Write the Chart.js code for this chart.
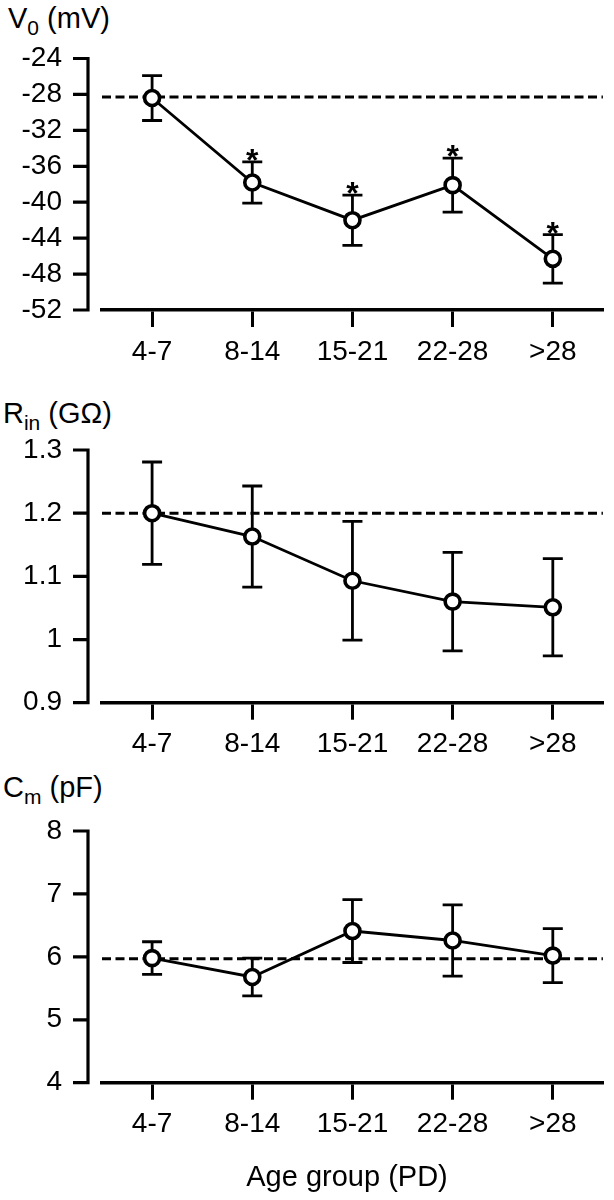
<!DOCTYPE html>
<html>
<head>
<meta charset="utf-8">
<script src="https://cdn.jsdelivr.net/npm/chart.js@4.4.1/dist/chart.umd.min.js"></script>
<style>
  body { margin: 0; background: #fff; width: 614px; height: 1200px; position: relative; overflow: hidden; }
  .box { position: absolute; left: 0; width: 614px; }
  .ttl { position: absolute; font-family: "Liberation Sans", Arial, sans-serif; font-size: 29px; color: #000; white-space: nowrap; }
  .ttl sub { font-size: 21px; vertical-align: -7px; line-height: 0; }
  #xlab { position: absolute; top: 1160px; left: 0; width: 694px; text-align: center; font-family: "Liberation Sans", Arial, sans-serif; font-size: 29px; }
</style>
</head>
<body>
<div class="ttl" style="left:8px; top:2px">V<sub>0</sub> (mV)</div>
<div class="ttl" style="left:3px; top:397px">R<sub>in</sub> (GΩ)</div>
<div class="ttl" style="left:3px; top:771px">C<sub>m</sub> (pF)</div>
<div class="box" style="top:0; height:380px"><canvas id="v0-chart"></canvas></div>
<div class="box" style="top:380px; height:390px"><canvas id="rin-chart"></canvas></div>
<div class="box" style="top:770px; height:430px"><canvas id="cm-chart"></canvas></div>
<div id="xlab">Age group (PD)</div>
<script>
const ageGroups = ['4-7', '8-14', '15-21', '22-28', '>28'];

// resting potential V0 (mV), mean ± SEM
const v0Mean = [-28.4, -37.8, -42.0, -38.1, -46.3];
const v0Sem = [2.5, 2.3, 2.8, 3.0, 2.7];
const v0Stars = ['', '*', '*', '*', '*'];
const v0Ref = -28.3;

// input resistance Rin (GOhm)
const rinMean = [1.20, 1.163, 1.093, 1.06, 1.051];
const rinSem = [0.081, 0.08, 0.094, 0.078, 0.077];
const rinRef = 1.2;

// membrane capacitance Cm (pF)
const cmMean = [5.98, 5.68, 6.41, 6.26, 6.02];
const cmSem = [0.26, 0.3, 0.5, 0.565, 0.43];
const cmRef = 5.97;

const FONT = '"Liberation Sans", Arial, sans-serif';
Chart.defaults.font.family = FONT;
Chart.defaults.color = '#000';

// dashed control line, error bars, stars and the detached y axis
const panelPlugin = {
    id: 'panel',
    beforeDatasetsDraw(chart, args, opts) {
        const ctx = chart.ctx, x = chart.scales.x, y = chart.scales.y, area = chart.chartArea;
        ctx.save();
        ctx.strokeStyle = '#000';
        // reference line
        ctx.lineWidth = 3;
        ctx.setLineDash([9, 4.5]);
        const ry = y.getPixelForValue(opts.ref);
        ctx.beginPath();
        ctx.moveTo(area.left, ry);
        ctx.lineTo(area.right, ry);
        ctx.stroke();
        ctx.setLineDash([]);
        // error bars
        ctx.lineWidth = 2.8;
        opts.mean.forEach((m, i) => {
            const px = x.getPixelForValue(i);
            const top = y.getPixelForValue(m + opts.sem[i]);
            const bot = y.getPixelForValue(m - opts.sem[i]);
            ctx.beginPath();
            ctx.moveTo(px, top); ctx.lineTo(px, bot);
            ctx.moveTo(px - 10, top); ctx.lineTo(px + 10, top);
            ctx.moveTo(px - 10, bot); ctx.lineTo(px + 10, bot);
            ctx.stroke();
            if (opts.stars && opts.stars[i]) {
                ctx.font = 'bold 32px ' + FONT;
                ctx.textAlign = 'center';
                ctx.textBaseline = 'alphabetic';
                ctx.fillStyle = '#000';
                ctx.fillText(opts.stars[i], px, top + 9);
            }
        });
        ctx.restore();
    },
    afterDraw(chart) {
        const ctx = chart.ctx, y = chart.scales.y, area = chart.chartArea;
        const ax = area.left - 14;
        ctx.save();
        ctx.strokeStyle = '#000';
        ctx.lineWidth = 3.2;
        ctx.beginPath();
        ctx.moveTo(ax, y.getPixelForValue(y.max) - 1.6);
        ctx.lineTo(ax, y.getPixelForValue(y.min) + 1.6);
        y.ticks.forEach(t => {
            const ty = y.getPixelForValue(t.value);
            ctx.moveTo(ax - 15, ty);
            ctx.lineTo(ax, ty);
        });
        ctx.stroke();
        ctx.restore();
    }
};

function makePanel(id, mean, sem, ref, stars, yMin, yMax, step, padTop, xHeight) {
    return new Chart(document.getElementById(id), {
        type: 'line',
        data: {
            labels: ageGroups,
            datasets: [{
                data: mean,
                borderColor: '#000',
                borderWidth: 2.8,
                pointRadius: 7.5,
                pointBorderWidth: 3.6,
                pointBackgroundColor: '#fff',
                pointBorderColor: '#000',
                tension: 0
            }]
        },
        options: {
            responsive: true,
            maintainAspectRatio: false,
            animation: false,
            layout: { padding: { top: padTop, right: 5, bottom: 0, left: 0 } },
            scales: {
                x: {
                    offset: true,
                    border: { color: '#000', width: 3.5 },
                    grid: { drawOnChartArea: false, offset: false, tickLength: 17, lineWidth: 3, color: '#000' },
                    ticks: { font: { size: 28 }, padding: 8, maxRotation: 0, autoSkip: false },
                    afterFit(s) { s.height = xHeight; }
                },
                y: {
                    min: yMin,
                    max: yMax,
                    border: { display: false },
                    grid: { display: false, drawTicks: false },
                    ticks: {
                        stepSize: step,
                        autoSkip: false,
                        font: { size: 28 },
                        padding: 40,
                        callback: v => String(parseFloat(v.toFixed(2)))
                    },
                    afterFit(s) { s.width = 102; }
                }
            },
            plugins: {
                legend: { display: false },
                tooltip: { enabled: false },
                panel: { mean: mean, sem: sem, ref: ref, stars: stars }
            }
        },
        plugins: [panelPlugin]
    });
}

const v0Chart = makePanel('v0-chart', v0Mean, v0Sem, v0Ref, v0Stars, -52, -24, 4, 58.5, 70);
const rinChart = makePanel('rin-chart', rinMean, rinSem, rinRef, null, 0.9, 1.3, 0.1, 70, 67.3);
const cmChart = makePanel('cm-chart', cmMean, cmSem, cmRef, null, 4, 8, 1, 61, 117.3);
</script>
</body>
</html>
